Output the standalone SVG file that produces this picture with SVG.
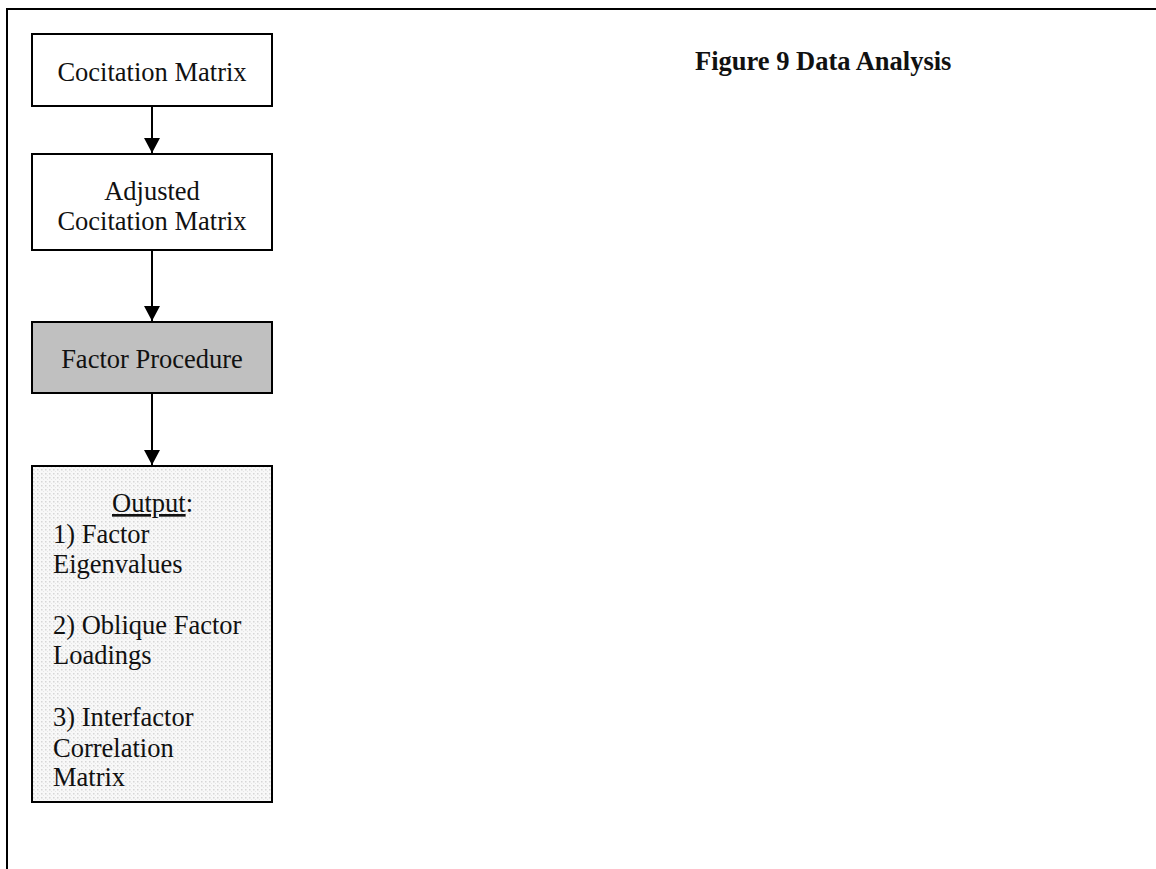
<svg xmlns="http://www.w3.org/2000/svg" width="1156" height="869" viewBox="0 0 1156 869">
<style>
.box{stroke:#000;stroke-width:2}
.t{font-family:"Liberation Serif","Times New Roman",serif;font-size:26.5px;fill:#111}
.c{text-anchor:middle}
.conn{stroke:#000;stroke-width:2;fill:none}
</style>
<defs>
<marker id="ah" markerWidth="16" markerHeight="16" refX="15" refY="8" orient="auto" markerUnits="userSpaceOnUse">
<path d="M0,0 L15,8 L0,16 z" fill="#000"/>
</marker>
<pattern id="dots" width="4" height="4" patternUnits="userSpaceOnUse">
<rect width="4" height="4" fill="#f8f8f8"/>
<rect x="1" y="1" width="1.5" height="1.5" fill="#d6d6d6"/>
<rect x="3" y="3" width="1" height="1" fill="#e6e6e6"/>
</pattern>
</defs>
<rect width="1156" height="869" fill="#fff"/>
<path d="M7,870 L7,9 L1157,9" fill="none" stroke="#000" stroke-width="2"/>
<text class="t" x="695" y="70" font-weight="bold">Figure 9 Data Analysis</text>
<g id="n1">
<rect class="box" x="32" y="34" width="240" height="72" fill="#fff"/>
<text class="t c" x="152" y="81">Cocitation Matrix</text>
</g>
<g id="n2">
<rect class="box" x="32" y="154" width="240" height="96" fill="#fff"/>
<text class="t c" x="152" y="200">Adjusted</text>
<text class="t c" x="152" y="230">Cocitation Matrix</text>
</g>
<g id="n3">
<rect class="box" x="32" y="322" width="240" height="71" fill="#c0c0c0"/>
<text class="t c" x="152" y="368">Factor Procedure</text>
</g>
<g id="n4">
<rect class="box" x="32" y="466" width="240" height="336" fill="url(#dots)"/>
<text class="t" x="112" y="512"><tspan text-decoration="underline">Output</tspan>:</text>
<text class="t" x="53" y="543">1) Factor</text>
<text class="t" x="53" y="573">Eigenvalues</text>
<text class="t" x="53" y="634">2) Oblique Factor</text>
<text class="t" x="53" y="664">Loadings</text>
<text class="t" x="53" y="726">3) Interfactor</text>
<text class="t" x="53" y="757">Correlation</text>
<text class="t" x="53" y="786">Matrix</text>
</g>
<g id="connectors">
<line class="conn" x1="152" y1="106" x2="152" y2="153" marker-end="url(#ah)"/>
<line class="conn" x1="152" y1="250" x2="152" y2="321" marker-end="url(#ah)"/>
<line class="conn" x1="152" y1="393" x2="152" y2="465" marker-end="url(#ah)"/>
</g>
</svg>
